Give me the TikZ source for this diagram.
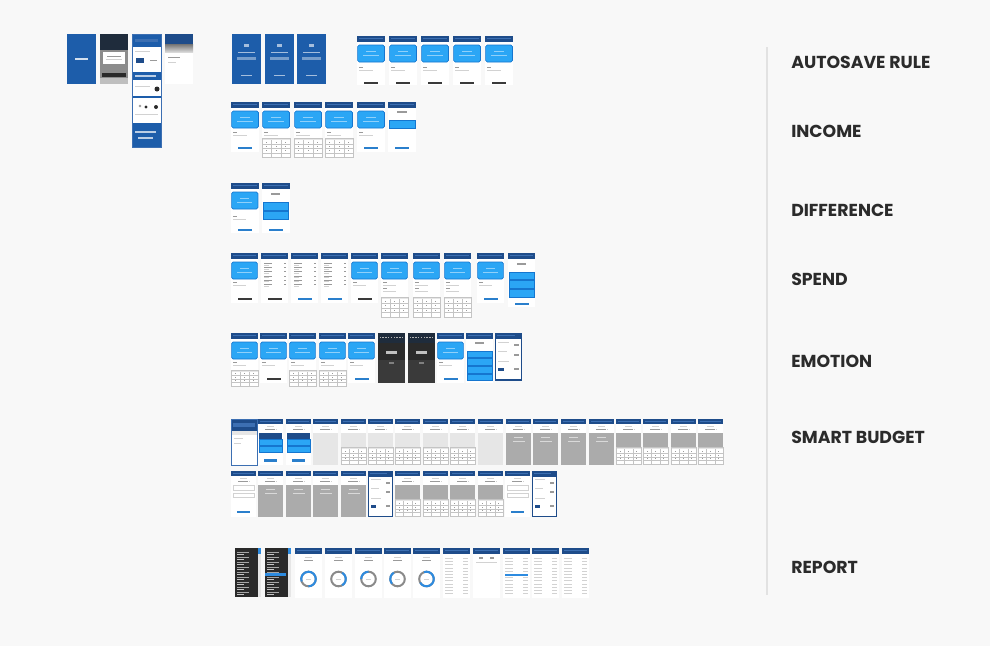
\documentclass[tikz,border=0pt]{standalone}
\usepackage{fontspec}
\newfontfamily\lblfont{Poppins}
\definecolor{bgc}{HTML}{F8F8F8}
\definecolor{hdr}{HTML}{1E4C8A}
\definecolor{hdrl}{HTML}{3C6FB2}
\definecolor{cardb}{HTML}{2BA6F5}
\definecolor{cardd}{HTML}{1576CF}
\definecolor{cardt}{HTML}{8FD0FA}
\definecolor{txtd}{HTML}{9A9A9A}
\definecolor{txtl}{HTML}{D2D2D2}
\definecolor{btnd}{HTML}{3A3A3A}
\definecolor{btnb}{HTML}{2A7FCC}
\definecolor{keyg}{HTML}{C4C4C4}
\definecolor{keyh}{HTML}{E6E6E6}
\definecolor{graym}{HTML}{ABABAB}
\definecolor{grayl}{HTML}{E6E6E6}
\definecolor{darkc}{HTML}{2A2A2A}
\definecolor{darkh}{HTML}{1F2C3C}
\definecolor{darkm}{HTML}{3A3A3A}
\definecolor{splash}{HTML}{1D5DAA}
\definecolor{lblc}{HTML}{2B2B2B}
\definecolor{rulec}{HTML}{E2E2E2}
\definecolor{donutg}{HTML}{8A8A8A}
\definecolor{donutb}{HTML}{2D8BE0}
% thumbnail building blocks (local box 27 x 50 px)
\newcommand\Th[4][]{\begin{scope}[shift={(#2,#3)},#1]#4\end{scope}}
\newcommand\Kbg[1][50]{\fill[white] (0,0) rectangle (27,#1);}
\newcommand\Khdr{\fill[hdr] (0,0) rectangle (27,5.5); \fill[hdrl] (2,2.2) rectangle (25,3.3);}
\newcommand\Kcard[1][9]{\fill[cardb,draw=cardd,line width=0.5pt,rounded corners=1.2pt] (0.6,#1) rectangle (26.4,#1+17);
  \fill[cardt] (9,#1+6) rectangle (18,#1+7); \fill[cardt] (6,#1+9.5) rectangle (21,#1+10.5);}
\newcommand\Ktext[1]{\fill[txtd] (2,#1) rectangle (6,#1+1); \fill[txtl] (2,#1+3) rectangle (15,#1+4);}
\newcommand\Kbtn[2]{\fill[#1] (6.5,#2) rectangle (20.5,#2+2.2);}
\newcommand\Kkeys[2]{\fill[white] (0,#1) rectangle (27,#2); \fill[keyh] (0,#1) rectangle (27,#1+2);
  \draw[keyg,line width=0.3pt] (0,#1) rectangle (27,#2);
  \foreach \i in {9,18}{\draw[keyg,line width=0.3pt] (\i,#1+2) -- (\i,#2);}
  \pgfmathsetmacro\kstep{(#2-#1-2)/4}
  \foreach \j in {1,2,3}{\draw[keyg,line width=0.3pt] (0,#1+2+\j*\kstep) -- (27,#1+2+\j*\kstep);}
  \foreach \i in {4.5,13.5,22.5}{\foreach \j in {0,1,2}{\fill[txtd] (\i-0.5,#1+2+\j*\kstep+0.4*\kstep) rectangle ++(1,0.25*\kstep);}}}
\newcommand\Kdollar[1]{\fill[txtd] (9,#1) rectangle (18,#1+1.8);}
\newcommand\Kbars[3]{\foreach \j in {1,...,#2}{\fill[cardb,draw=cardd,line width=0.4pt] (1,#1+\j*#3-#3) rectangle (26,#1+\j*#3-1);}}
\newcommand\Klist[1]{\foreach \j in {0,...,5}{\fill[txtd] (3,#1+4.2*\j) rectangle (11,#1+4.2*\j+0.9);
  \fill[txtl] (3,#1+4.2*\j+1.6) rectangle (8,#1+4.2*\j+2.2); \fill[txtd] (23,#1+4.2*\j) rectangle (25,#1+4.2*\j+1);}}
\newcommand\Kdark{\fill[darkc] (0,0) rectangle (27,50); \fill[darkh] (0,0) rectangle (27,10);
  \foreach \i in {0,...,8}{\fill[gray!60] (1.5+2.8*\i,4) rectangle ++(1.5,1.2);}
  \fill[darkm] (0,27) rectangle (27,50); \fill[white!75!black] (8,18) rectangle (19,20.5); \fill[gray] (11,29) rectangle (16,31);}
\newcommand\Kframe{\fill[hdr] (0,0) rectangle (27,50); \fill[white] (1.3,6) rectangle (25.7,48.7); \fill[hdrl] (2,2.5) rectangle (20,3.5);
  \fill[txtl] (3,9) rectangle (14,10); \fill[txtd] (19,12) rectangle (24,14); \fill[txtl] (3,19) rectangle (12,20);
  \fill[txtd] (19,22) rectangle (24,24); \fill[txtl] (3,29) rectangle (14,30); \fill[hdr] (3,37) rectangle (9,40.5);
  \fill[txtd] (19,37) rectangle (24,39);}
\newcommand\Stxt{\fill[txtl] (10,7.5) rectangle (17,8.3); \fill[txtd] (7,10.5) rectangle (18,12); \fill[txtl] (19,10.8) rectangle (20.5,11.8);}
\newcommand\Sbox[3]{\fill[#1] (0,#2) rectangle (27,#3);}
\newcommand\Sinputs{\draw[txtl,line width=0.4pt] (2,16) rectangle (25,21); \draw[txtl,line width=0.4pt] (2,24) rectangle (25,29); \Kbtn{btnb}{43}}
\newcommand\Sshot{\fill[white] (0,0) rectangle (27,50); \fill[hdr] (0,0) rectangle (27,13); \fill[hdrl] (2,4) rectangle (25,9);
  \fill[grayl] (0,13) rectangle (27,17); \fill[txtl] (3,21) rectangle (12,22); \fill[txtl] (3,26) rectangle (10,27); \draw[hdrl,line width=0.4pt] (0,0) rectangle (27,50);}
\newcommand\Sgraytxt{\fill[white!85!black] (9,20) rectangle (18,21); \fill[white!85!black] (7,24) rectangle (20,25);}
\newcommand\Rdark{\fill[darkc] (0,0) rectangle (23,49); \fill[donutb] (23,0) rectangle (26,6); \fill[grayl] (23,6) rectangle (26,49);
  \foreach \j in {0,...,8}{\fill[gray!70] (2,4+5*\j) rectangle (14,4.8+5*\j); \fill[gray!45] (2,6+5*\j) rectangle (9,6.5+5*\j);}}
\newcommand\Rdonut[2]{\Kbg\Khdr\fill[txtl] (10,9) rectangle (17,10); \fill[txtd] (9,12) rectangle (18,13);
  \draw[donutg,line width=1.5pt] (13.5,31) circle (7.3);
  \draw[donutb,line width=1.5pt] ([shift={(#1:7.3)}]13.5,31) arc[start angle=#1,end angle=#2,radius=7.3];
  \fill[txtl] (11,30.5) rectangle (16,31.5);}
\newcommand\Rlist{\Kbg\Khdr\foreach \j in {0,...,11}{\fill[txtl] (2,10+3.2*\j) rectangle (10,10.7+3.2*\j); \fill[txtl] (20,10+3.2*\j) rectangle (25,10.7+3.2*\j);}}
\begin{document}
\begin{tikzpicture}[x=0.75pt,y=-0.75pt,
  lbl/.style={font=\lblfont\bfseries\fontsize{13}{15}\selectfont,text=lblc,anchor=west,inner sep=0pt}]
\useasboundingbox (0,0) rectangle (990,646);
\fill[bgc] (0,0) rectangle (990,646);
% ---------- top-left group ----------
\fill[splash] (67,34) rectangle (96,84); \fill[white!80!splash] (75,58) rectangle (88,59.5);
\fill[white] (100,34) rectangle (128,84); \fill[darkh] (100,34) rectangle (128,50);
\fill[black!45] (100,50) rectangle (128,84); \fill[white] (103,52) rectangle (125,64);
\fill[txtd] (107,56) rectangle (121,57); \fill[txtl] (106,59) rectangle (122,60);
\fill[darkc] (102,73) rectangle (126,77); \fill[black!25] (100,78) rectangle (128,84);
\fill[white] (132,34) rectangle (161,147);
\fill[splash] (132,34) rectangle (161,47); \fill[hdrl] (135,39) rectangle (158,42);
\fill[hdr] (136,58) rectangle (144,63); \fill[txtl] (135,51) rectangle (150,52); \fill[txtd] (150,60) rectangle (157,61);
\fill[splash] (132,72) rectangle (161,80); \fill[white!70!splash] (135,75) rectangle (156,77);
\fill[darkc] (157,89) circle (2.5); \fill[txtl] (135,86) rectangle (150,87);
\fill[splash] (132,96) rectangle (161,98);
\fill[darkc] (146,107) circle (1.6); \fill[darkc] (156,107) circle (2); \fill[txtd] (140,106) circle (1.3);
\fill[txtl] (135,114) rectangle (158,115);
\fill[splash] (132,123) rectangle (161,147); \fill[white!70!splash] (135,131) rectangle (156,133); \fill[white!70!splash] (138,137) rectangle (153,139);
\draw[hdrl,line width=0.4pt] (132,34) rectangle (161,147);
\fill[white] (165,34) rectangle (193,84); \fill[hdr] (165,34) rectangle (193,44);
\shade[top color=black!55,bottom color=black!15] (165,44) rectangle (193,52);
\fill[txtd] (168,57) rectangle (180,58); \fill[txtl] (168,62) rectangle (176,63);
\foreach \x in {232,265,297}{\fill[splash] (\x,34) rectangle (\x+29,84);
  \fill[white!60!splash] (\x+12,44) rectangle (\x+17,47); \fill[white!60!splash] (\x+6,52) rectangle (\x+23,53);
  \fill[white!40!splash] (\x+5,57) rectangle (\x+24,60); \fill[white!60!splash] (\x+9,75) rectangle (\x+20,76);}
% ---------- AUTOSAVE RULE ----------
\foreach \x in {357,389,421,453,485}{\Th[xscale=1.04]{\x}{36}{\Kbg[49]\Khdr\Kcard[9]\Ktext{31}\Kbtn{btnd}{46}}}
% ---------- INCOME ----------
\Th[xscale=1.04]{231}{102}{\Kbg\Khdr\Kcard\Ktext{30}\Kbtn{btnb}{45}}
\foreach \x in {262,294,325}{\Th[xscale=1.04]{\x}{102}{\Kbg\Khdr\Kcard\Ktext{30}\Kkeys{36}{55}}}
\Th[xscale=1.04]{357}{102}{\Kbg\Khdr\Kcard\Ktext{30}\Kbtn{btnb}{45}}
\Th[xscale=1.04]{388}{102}{\Kbg\Khdr\Kdollar{9}\Kbars{18}{1}{9}\Kbtn{btnb}{45}}
% ---------- DIFFERENCE ----------
\Th[xscale=1.02]{231}{183}{\Kbg\Khdr\Kcard\Ktext{33}\Kbtn{btnb}{46}}
\Th[xscale=1.02]{262}{183}{\Kbg\Khdr\Kdollar{10}\Kbars{19}{2}{9}\Kbtn{btnb}{46}}
% ---------- SPEND ----------
\Th{231}{253}{\Kbg\Khdr\Kcard\Ktext{29}\Kbtn{btnd}{45}}
\Th{261}{253}{\Kbg\Khdr\Klist{10}\Kbtn{btnd}{45}}
\Th{291}{253}{\Kbg\Khdr\Klist{10}\Kbtn{btnb}{45}}
\Th{321}{253}{\Kbg\Khdr\Klist{10}\Kbtn{btnb}{45}}
\Th{351}{253}{\Kbg\Khdr\Kcard\Ktext{29}\Kbtn{btnd}{45}}
\foreach \x in {381,413,444}{\Th{\x}{253}{\Kbg\Khdr\Kcard\Ktext{29}\Ktext{35}\Kkeys{44}{64}}}
\Th{477}{253}{\Kbg\Khdr\Kcard\Ktext{29}\Kbtn{btnb}{45}}
\Th{508}{253}{\Kbg[54]\Khdr\Kdollar{10}\Kbars{19}{3}{8.7}\Kbtn{btnb}{50}}
% ---------- EMOTION ----------
\Th{231}{333}{\Kbg\Khdr\Kcard\Ktext{29}\Kkeys{37}{53}}
\Th{260}{333}{\Kbg\Khdr\Kcard\Ktext{29}\Kbtn{btnd}{45}}
\Th{289}{333}{\Kbg\Khdr\Kcard\Ktext{29}\Kkeys{37}{53}}
\Th{319}{333}{\Kbg\Khdr\Kcard\Ktext{29}\Kkeys{37}{53}}
\Th{348}{333}{\Kbg\Khdr\Kcard\Ktext{29}\Kbtn{btnb}{45}}
\Th{378}{333}{\Kdark}
\Th{408}{333}{\Kdark}
\Th{437}{333}{\Kbg\Khdr\Kcard\Ktext{29}\Kbtn{btnb}{45}}
\Th{466}{333}{\Kbg\Khdr\Kdollar{9}\Kbars{18}{4}{7.6}}
\Th[yscale=0.95]{495}{333}{\Kframe}
% ---------- SMART BUDGET row 1 ----------
\Th[xscale=0.96,yscale=0.92]{231}{419}{\Sshot}
\foreach \x in {258,286}{\Th[xscale=0.93,yscale=0.92]{\x}{419}{\Kbg\Khdr\Stxt
  \fill[hdr] (1,15) rectangle (26,21.5); \Kbars{22.5}{2}{7.5}\Kbtn{btnb}{44}}}
\foreach \x in {313,478}{\Th[xscale=0.93,yscale=0.92]{\x}{419}{\Kbg\Khdr\Stxt\Sbox{grayl}{15}{50}}}
\foreach \x in {341,368,395,423,450}{\Th[xscale=0.93,yscale=0.92]{\x}{419}{\Kbg\Khdr\Stxt\Sbox{grayl}{15}{31}\Kkeys{31}{49}}}
\foreach \x in {506,533,561,589}{\Th[xscale=0.93,yscale=0.92]{\x}{419}{\Kbg\Khdr\Stxt\Sbox{graym}{15}{50}\Sgraytxt}}
\foreach \x in {616,643,671,698}{\Th[xscale=0.93,yscale=0.92]{\x}{419}{\Kbg\Khdr\Stxt\Sbox{graym}{15}{31}\Kkeys{31}{49}}}
% ---------- SMART BUDGET row 2 ----------
\foreach \x in {231,505}{\Th[xscale=0.93,yscale=0.92]{\x}{471}{\Kbg\Khdr\Stxt\Sinputs}}
\foreach \x in {258,286,313,341}{\Th[xscale=0.93,yscale=0.92]{\x}{471}{\Kbg\Khdr\Stxt\Sbox{graym}{15}{50}\Sgraytxt}}
\foreach \x in {368,532}{\Th[xscale=0.93,yscale=0.92]{\x}{471}{\Kframe}}
\foreach \x in {395,423,450,478}{\Th[xscale=0.93,yscale=0.92]{\x}{471}{\Kbg\Khdr\Stxt\Sbox{graym}{15}{31}\Kkeys{31}{49}}}
% ---------- REPORT ----------
\Th{235}{548}{\Rdark}
\Th{265}{548}{\Rdark\fill[donutb] (0,25) rectangle (21,27.5);}
\Th{295}{548}{\Rdonut{90}{-200}}
\Th{325}{548}{\Rdonut{60}{-60}}
\Th{355}{548}{\Rdonut{180}{270}}
\Th{384}{548}{\Rdonut{140}{240}}
\Th{413}{548}{\Rdonut{150}{-110}}
\Th{443}{548}{\Rlist}
\Th{473}{548}{\Kbg\Khdr\fill[txtd] (6,9) rectangle (10,10.5); \fill[txtd] (17,9) rectangle (21,10.5); \fill[txtl] (3,14) rectangle (24,14.6);}
\Th{503}{548}{\Rlist\fill[donutb] (2,25.5) rectangle (25,28);}
\Th{532}{548}{\Rlist}
\Th{562}{548}{\Rlist}
% ---------- right-hand labels ----------
\draw[rulec,line width=0.8pt] (767,47) -- (767,595);
\node[lbl] (autosave) at (791,62) {AUTOSAVE RULE};
\node[lbl] (income) at (791,131) {INCOME};
\node[lbl] (difference) at (791,210) {DIFFERENCE};
\node[lbl] (spend) at (791,279) {SPEND};
\node[lbl] (emotion) at (791,361) {EMOTION};
\node[lbl] (smartbudget) at (791,437) {SMART BUDGET};
\node[lbl] (report) at (791,567) {REPORT};
\end{tikzpicture}
\end{document}
